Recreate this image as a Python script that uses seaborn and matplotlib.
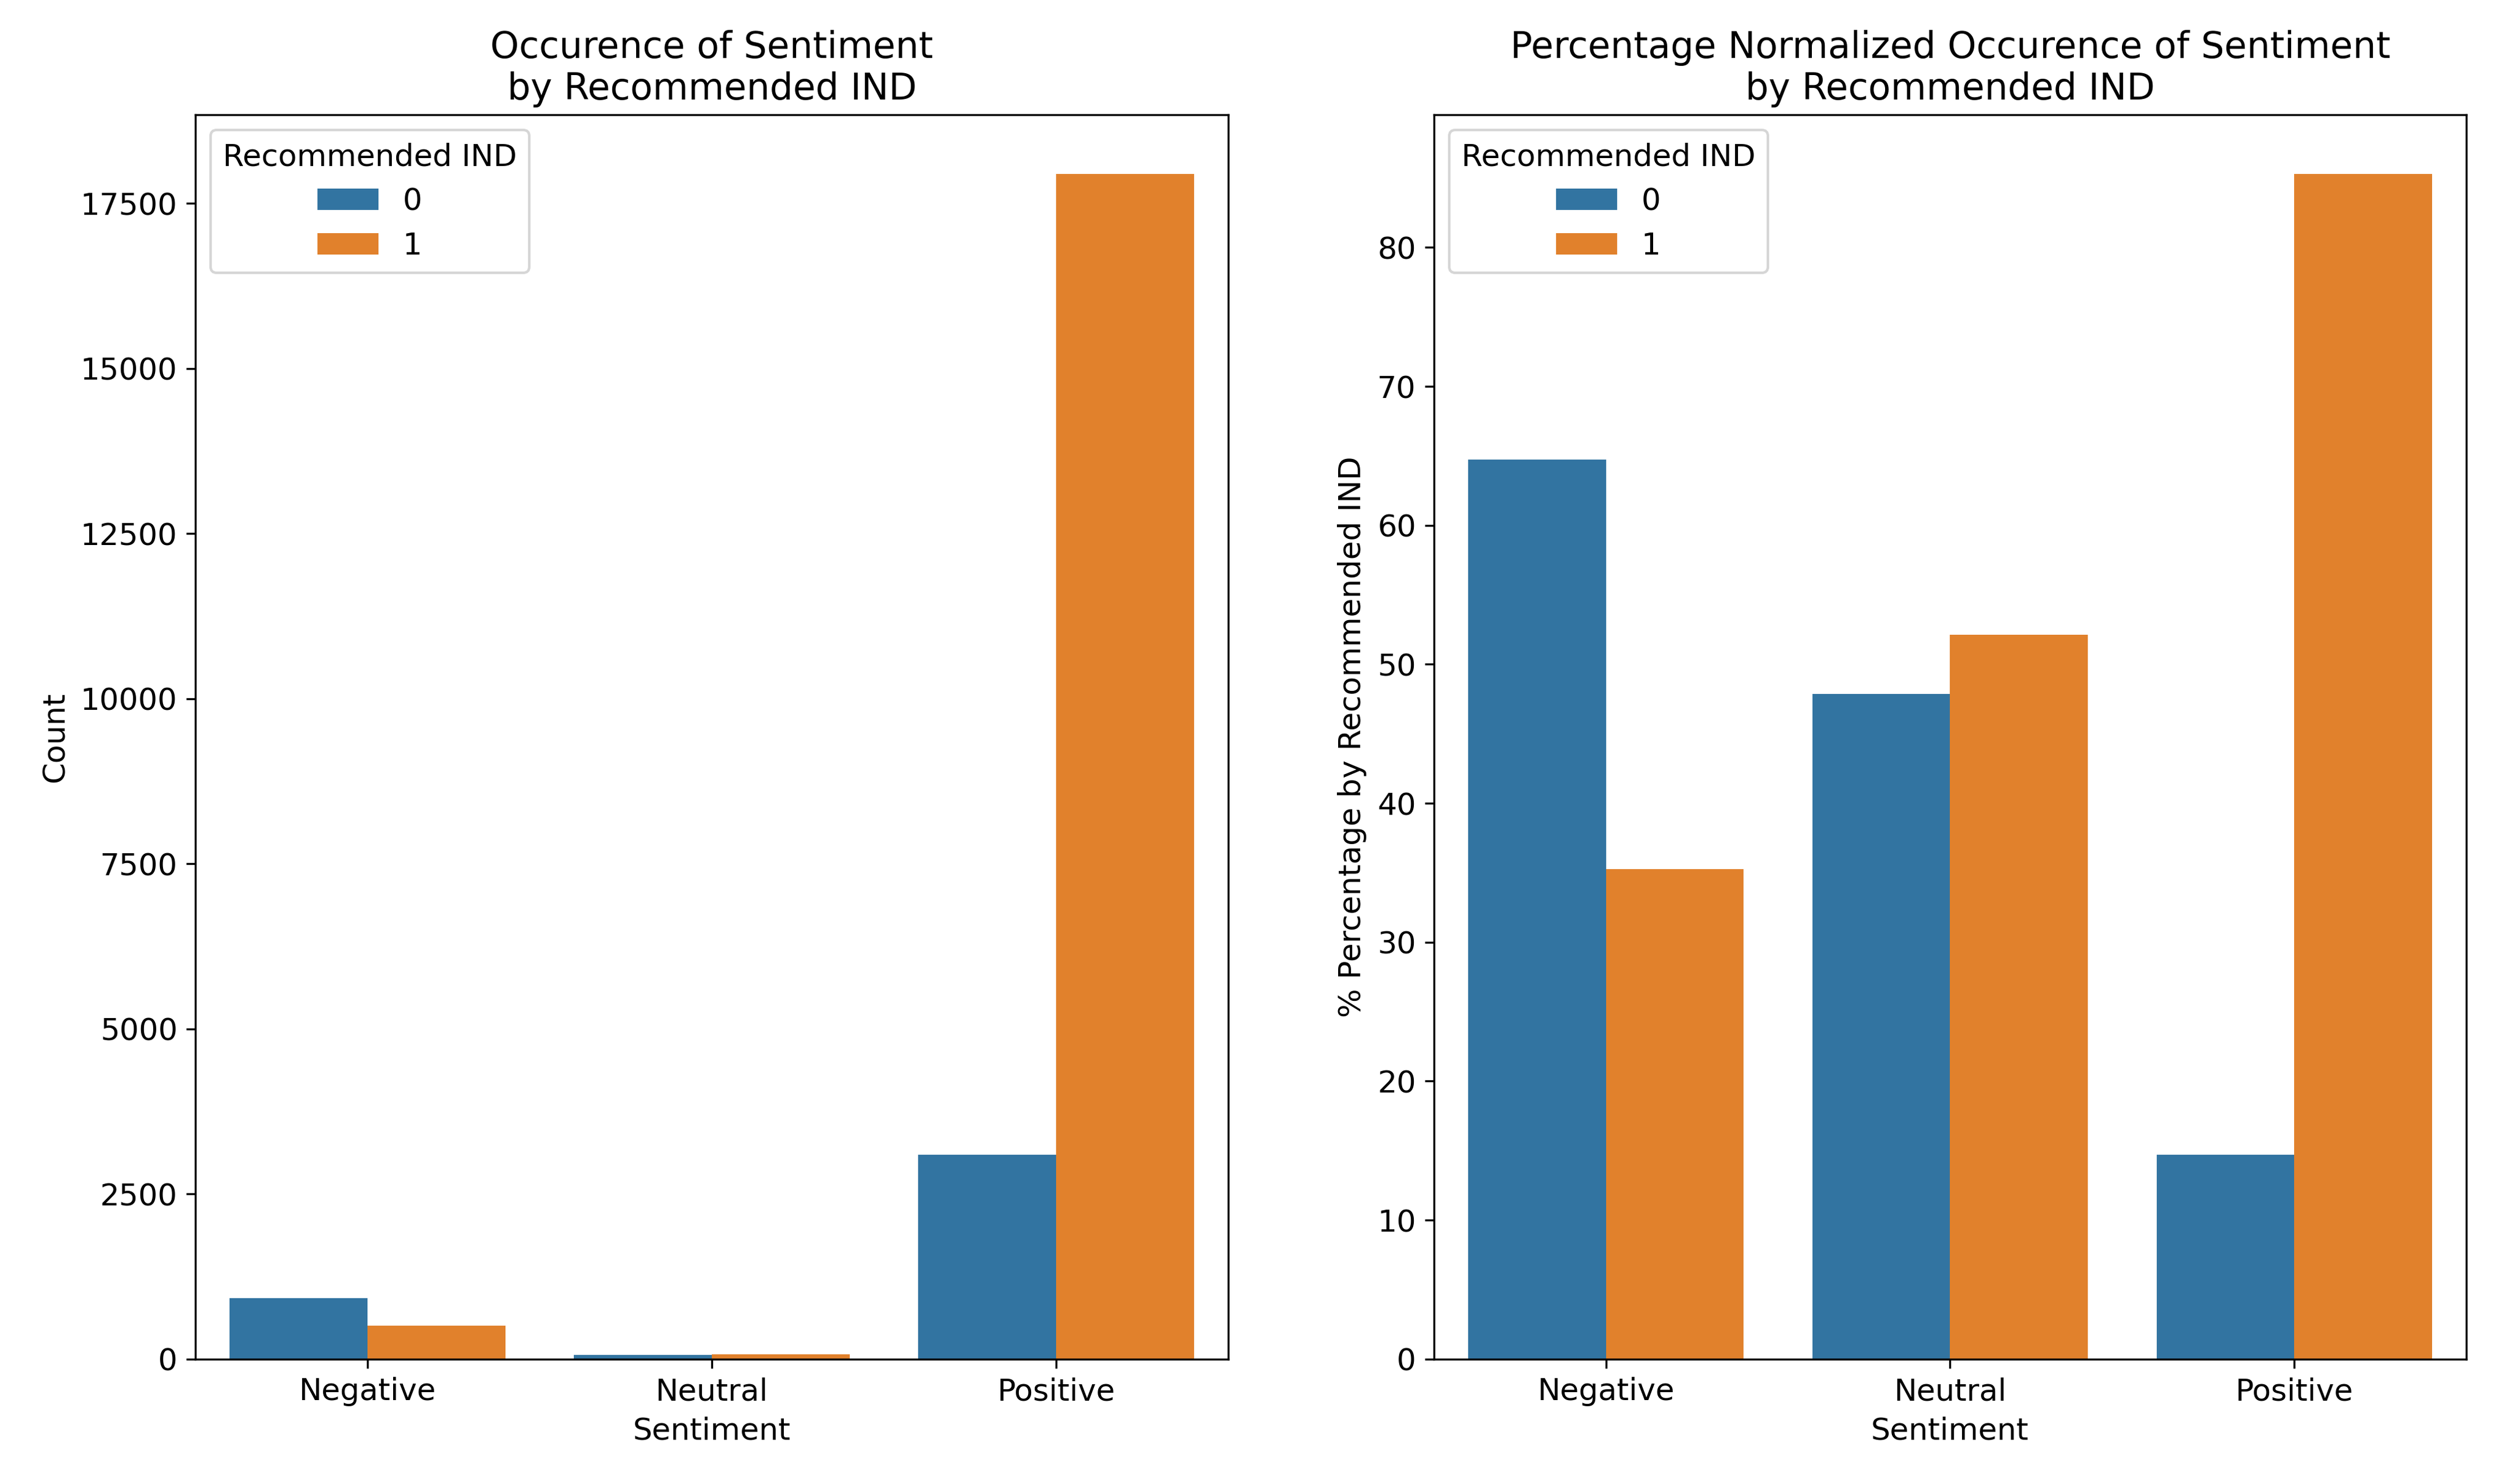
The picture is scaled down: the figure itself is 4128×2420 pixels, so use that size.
import pandas as pd
import seaborn as sns
import numpy as np
import matplotlib.pyplot as plt

plt.rcParams['font.size'] = 12

# values
sentiments = ['Negative', 'Neutral', 'Positive']
rec_levels = ['0', '1']
count_rec0 = [924, 67, 3097]
count_rec1 = [503, 73, 17944]
pct_rec0 = [64.75, 47.88, 14.72]
pct_rec1 = [35.25, 52.12, 85.28]

counts = pd.DataFrame({
    'Sentiment': sentiments * 2,
    'Recommended IND': [rec_levels[0]] * 3 + [rec_levels[1]] * 3,
    'Count': count_rec0 + count_rec1,
})
pcts = pd.DataFrame({
    'Sentiment': sentiments * 2,
    'Recommended IND': [rec_levels[0]] * 3 + [rec_levels[1]] * 3,
    'Pct': pct_rec0 + pct_rec1,
})

fig, ax = plt.subplots(1, 2, figsize=(13.76, 8.0667), dpi=300)
ax[0].set_position([0.0775, 0.0798, 0.4099, 0.8425])
ax[1].set_position([0.5690, 0.0798, 0.4097, 0.8425])

sns.barplot(data=counts, x='Sentiment', y='Count', hue='Recommended IND',
            hue_order=rec_levels, order=sentiments, ax=ax[0])
ax[0].set_title('Occurence of Sentiment\nby Recommended IND')
ax[0].set_ylabel('Count')
ax[0].set_xlabel('Sentiment')
ax[0].legend(title='Recommended IND', loc='upper left')

sns.barplot(data=pcts, x='Sentiment', y='Pct', hue='Recommended IND',
            hue_order=rec_levels, order=sentiments, ax=ax[1])
ax[1].set_title('Percentage Normalized Occurence of Sentiment\nby Recommended IND')
ax[1].set_ylabel('% Percentage by Recommended IND')
ax[1].set_xlabel('Sentiment')
ax[1].legend(title='Recommended IND', loc='upper left')

plt.savefig('out.png', dpi=300)
